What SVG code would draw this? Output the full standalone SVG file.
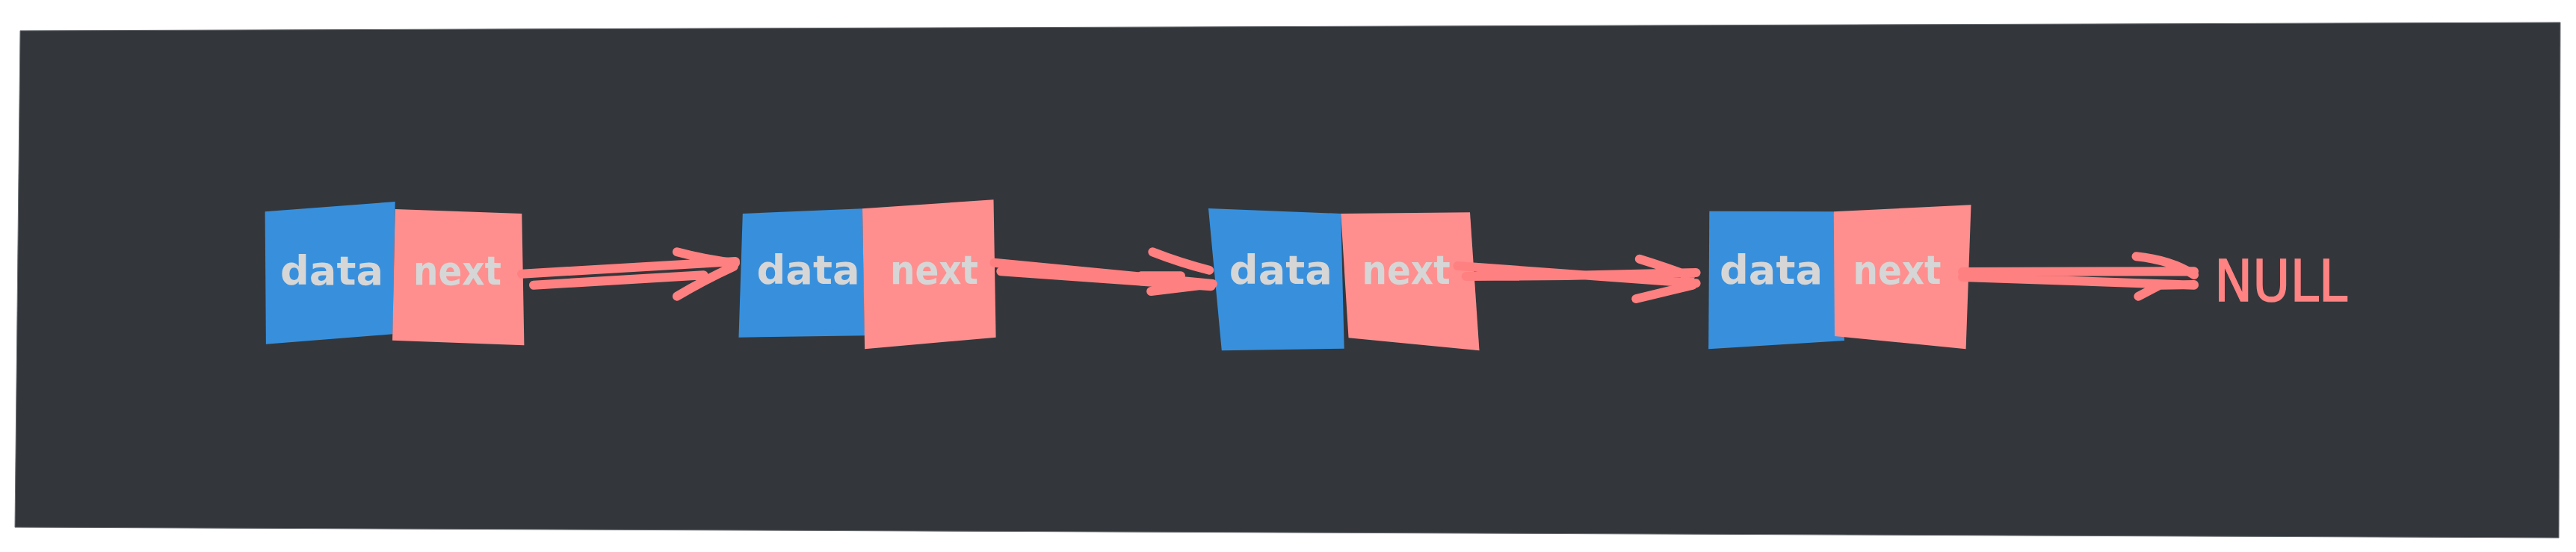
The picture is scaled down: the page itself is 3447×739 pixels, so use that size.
<svg xmlns="http://www.w3.org/2000/svg" width="3447" height="739" viewBox="0 0 3447 739">
<style>
.bg{fill:#33373b;stroke:#6a6e72;stroke-width:1}
.d{fill:#3890dd}
.n{fill:#ff8f8f}
.t{font-family:"DejaVu Sans",sans-serif;font-size:54px;font-weight:bold;fill:#d6d6d6;text-anchor:middle}
.a{fill:none;stroke:#ff8080;stroke-width:12;stroke-linecap:round;stroke-linejoin:round}
.null{font-family:"DejaVu Sans",sans-serif;font-size:77px;fill:#ff8383;stroke:#ff8383;stroke-width:1.5}
</style>
<rect width="3447" height="739" fill="#ffffff"/>
<polygon class="bg" points="27,41 3426,30 3424,720 20,706"/>
<g id="node1">
<polygon class="d" points="354.6,283.3 528.7,270 525.5,447.3 355.9,460.7"/>
<polygon class="n" points="528.7,280 698.3,286 701.4,462.3 525.1,455.7"/>
<text class="t" x="444" y="381" textLength="138" lengthAdjust="spacingAndGlyphs">data</text>
<text class="t" x="612" y="381" textLength="118" lengthAdjust="spacingAndGlyphs">next</text>
</g>
<g id="node2">
<polygon class="d" points="993.8,286 1154,279.3 1157.1,449.3 988.5,451.7"/>
<polygon class="n" points="1154,279.3 1329.5,267.3 1332.6,451.7 1157.1,467.3"/>
<text class="t" x="1081.5" y="380" textLength="138" lengthAdjust="spacingAndGlyphs">data</text>
<text class="t" x="1250" y="380" textLength="118" lengthAdjust="spacingAndGlyphs">next</text>
</g>
<g id="node3">
<polygon class="d" points="1617,279 1794.2,286 1798.7,466.7 1634.8,469.3"/>
<polygon class="n" points="1794.2,286 1967,284.3 1979.5,469.3 1804.5,452.3"/>
<text class="t" x="1713.8" y="380" textLength="138" lengthAdjust="spacingAndGlyphs">data</text>
<text class="t" x="1881.6" y="380" textLength="118" lengthAdjust="spacingAndGlyphs">next</text>
</g>
<g id="node4">
<polygon class="d" points="2287.3,282.7 2453.8,283.3 2468.1,456 2286.2,467.3"/>
<polygon class="n" points="2453.8,283.3 2637.5,274.3 2630.6,467.3 2455,450"/>
<text class="t" x="2370" y="380" textLength="138" lengthAdjust="spacingAndGlyphs">data</text>
<text class="t" x="2538.5" y="380" textLength="118" lengthAdjust="spacingAndGlyphs">next</text>
</g>
<g id="null">
<text class="null" x="2963" y="403" textLength="178" lengthAdjust="spacingAndGlyphs">NULL</text>
</g>
<g id="connectors">
<path class="a" d="M698,366.7 L984,350 M714,381.7 L941.6,368.3 M905.9,337.3 Q946,348 984,352 M905.9,396.7 Q940,376 981.8,356.7"/>
<path class="a" d="M1330.4,351.7 L1622.8,380 M1339.3,363.3 L1620.5,383.3 M1527,369.3 L1580,369.3 M1542.4,337.3 Q1580,352 1618.3,361.7 M1540.2,390 L1622.8,380"/>
<path class="a" d="M1950.4,356 L2269.6,379.3 M1961.6,370 L2095.5,369 L2269.6,365 M2193.8,346.7 Q2230,358 2262,370 M2189.3,400 L2265.2,381.7"/>
<path class="a" d="M2626,364 L2936,363.3 M2626,371 L2936,381.7 M2858.5,343.3 Q2905,348 2936,368 M2861.4,396.7 L2890,381.7 L2936,381"/>
</g>
</svg>
